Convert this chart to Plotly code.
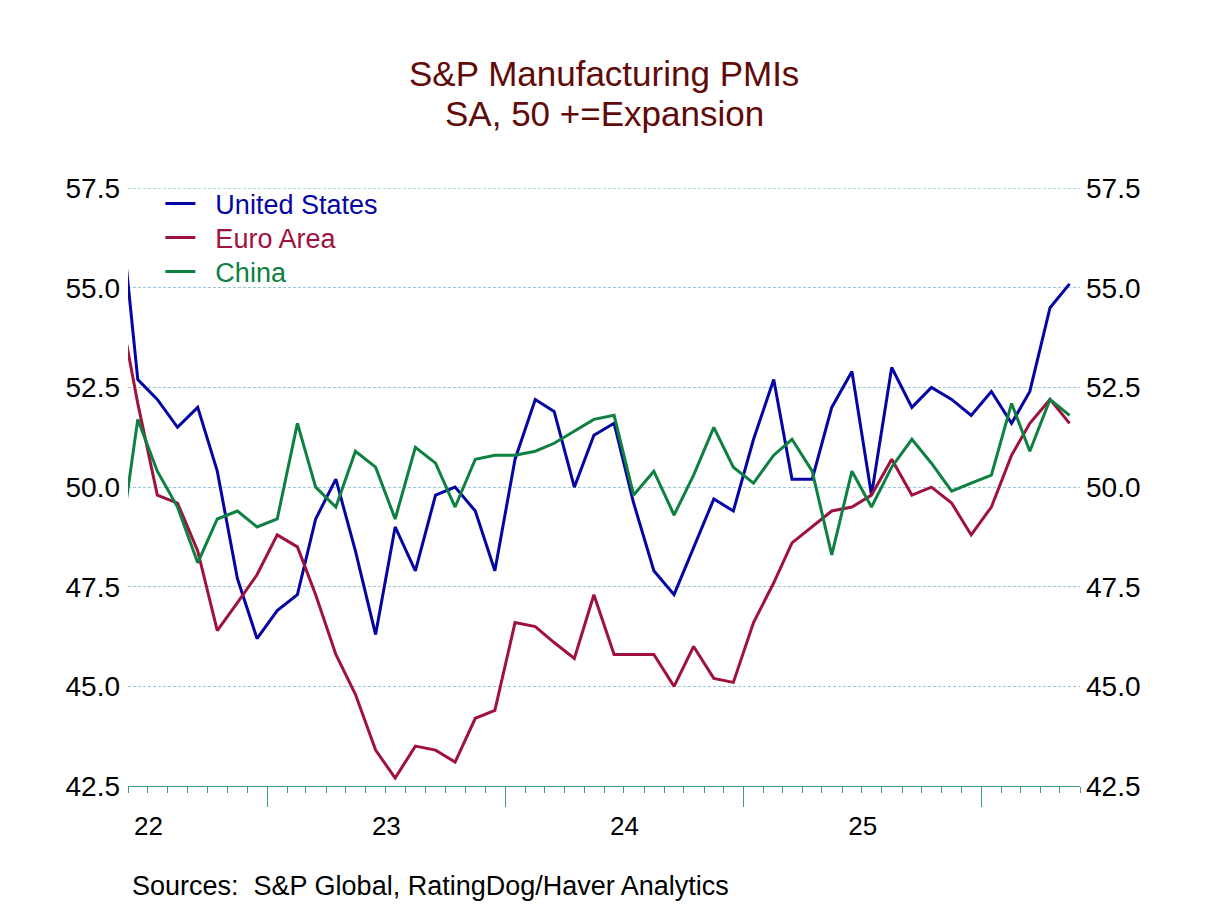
import pandas as pd
import plotly.graph_objects as go

# Monthly observations, May 2022 .. May 2026
months = pd.date_range("2022-05-01", "2026-05-01", freq="MS") + pd.Timedelta(days=15)

us = [57.7, 52.7, 52.2, 51.5, 52.0, 50.4, 47.7, 46.2,
      46.9, 47.3, 49.2, 50.2, 48.4, 46.3, 49.0, 47.9, 49.8, 50.0, 49.4, 47.9,
      50.7, 52.2, 51.9, 50.0, 51.3, 51.6, 49.6, 47.9, 47.3, 48.5, 49.7, 49.4,
      51.2, 52.7, 50.2, 50.2, 52.0, 52.9, 49.8, 53.0, 52.0, 52.5, 52.2, 51.8,
      52.4, 51.6, 52.4, 54.5, 55.1]
euro = [54.8, 52.1, 49.8, 49.6, 48.4, 46.4, 47.1, 47.8,
        48.8, 48.5, 47.3, 45.8, 44.8, 43.4, 42.7, 43.5, 43.4, 43.1, 44.2, 44.4,
        46.6, 46.5, 46.1, 45.7, 47.3, 45.8, 45.8, 45.8, 45.0, 46.0, 45.2, 45.1,
        46.6, 47.6, 48.6, 49.0, 49.4, 49.5, 49.8, 50.7, 49.8, 50.0, 49.6, 48.8,
        49.5, 50.8, 51.6, 52.2, 51.6]
china = [48.1, 51.7, 50.4, 49.5, 48.1, 49.2, 49.4, 49.0,
         49.2, 51.6, 50.0, 49.5, 50.9, 50.5, 49.2, 51.0, 50.6, 49.5, 50.7, 50.8,
         50.8, 50.9, 51.1, 51.4, 51.7, 51.8, 49.8, 50.4, 49.3, 50.3, 51.5, 50.5,
         50.1, 50.8, 51.2, 50.4, 48.3, 50.4, 49.5, 50.5, 51.2, 50.6, 49.9, 50.1,
         50.3, 52.1, 50.9, 52.2, 51.8]

series_names = ["United States", "Euro Area", "China"]
series_colors = ["#0505a3", "#a0123e", "#0e8042"]
series_values = [us, euro, china]
legend_ids = ["legend", "legend2", "legend3"]

y_ticks = [42.5, 45.0, 47.5, 50.0, 52.5, 55.0, 57.5]

FONT = "Liberation Sans, Arial, sans-serif"
AXIS_GREEN = "#3f9e7e"
GRID = "#98c8dc"
NB = "\u00a0"

fig = go.Figure()
for name, color, vals, lg in zip(series_names, series_colors, series_values, legend_ids):
    fig.add_trace(go.Scatter(
        x=months, y=vals, mode="lines",
        name=f"<span style='color:{color}'>{NB*2}{name}</span>",
        line=dict(color=color, width=3), legend=lg,
    ))
# helper trace so the right-hand axis exists
fig.add_trace(go.Scatter(x=[], y=[], yaxis="y2", showlegend=False, hoverinfo="skip"))

legend_style = dict(x=0.034, xanchor="left", yanchor="middle",
                    bgcolor="rgba(0,0,0,0)", font=dict(size=27), itemwidth=30)

fig.update_layout(
    width=1208, height=906,
    margin=dict(l=128, r=128, t=188, b=120),
    paper_bgcolor="white", plot_bgcolor="white",
    font=dict(family=FONT, color="black"),
    showlegend=True,
    legend=dict(y=0.9732, **legend_style),
    legend2=dict(y=0.9164, **legend_style),
    legend3=dict(y=0.8595, **legend_style),
    xaxis=dict(
        type="date", range=["2022-06-01", "2026-06-01"],
        showgrid=False, zeroline=False,
        showline=True, linecolor=AXIS_GREEN, linewidth=1,
        ticks="outside", ticklen=20, tickwidth=1, tickcolor=AXIS_GREEN,
        dtick="M12", tick0="2022-01-01", ticklabelmode="period", tickformat="%y",
        ticklabelstandoff=-3,
        tickfont=dict(size=26, color="black"),
        minor=dict(dtick="M1", ticks="outside", ticklen=6, tickwidth=1,
                   tickcolor=AXIS_GREEN, showgrid=False),
    ),
    yaxis=dict(
        range=[42.5, 57.505], tickvals=y_ticks, tickformat=".1f",
        showgrid=True, gridcolor=GRID, gridwidth=1, griddash="3px,2px",
        showline=False, zeroline=False, ticks="", ticklabelstandoff=7,
        tickfont=dict(size=28, color="black"),
    ),
    yaxis2=dict(
        range=[42.5, 57.505], tickvals=y_ticks, tickformat=".1f",
        overlaying="y", side="right", showgrid=False, showline=False,
        zeroline=False, ticks="", ticklabelstandoff=5,
        tickfont=dict(size=28, color="black"),
    ),
    shapes=[
        dict(type="line", xref="paper", x0=0, x1=1, yref="y",
             y0=y_ticks[-1], y1=y_ticks[-1], layer="below",
             line=dict(color=GRID, width=1, dash="3px,2px")),
    ],
    annotations=[
        dict(text="S&amp;P Manufacturing PMIs", xref="paper", yref="paper",
             x=0.5, y=1, yanchor="middle", yshift=115, showarrow=False,
             font=dict(size=35, color="#600a0a")),
        dict(text="SA, 50 +=Expansion", xref="paper", yref="paper",
             x=0.5, y=1, yanchor="middle", yshift=75, showarrow=False,
             font=dict(size=35, color="#600a0a")),
        dict(text=f"Sources:{NB}{NB}S&amp;P Global, RatingDog/Haver Analytics",
             xref="paper", yref="paper", x=0, xshift=2, xanchor="left",
             y=0, yanchor="middle", yshift=-100, showarrow=False,
             font=dict(size=27, color="black")),
    ],
)

fig.write_html("out.html")
